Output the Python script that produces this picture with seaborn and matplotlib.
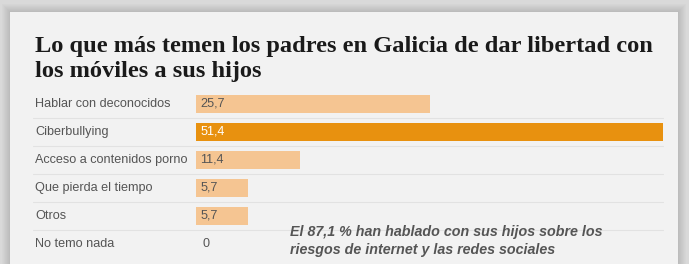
import numpy as np
import pandas as pd
import seaborn as sns
import matplotlib.pyplot as plt
from matplotlib.patches import Rectangle

# Data
categories = ["Hablar con deconocidos", "Ciberbullying", "Acceso a contenidos porno",
              "Que pierda el tiempo", "Otros", "No temo nada"]
values = [25.7, 51.4, 11.4, 5.7, 5.7, 0.0]
value_labels = ["25,7", "51,4", "11,4", "5,7", "5,7", "0"]
highlight = "Ciberbullying"

title = "Lo que más temen los padres en Galicia de dar libertad con\nlos móviles a sus hijos"
note = "El 87,1 % han hablado con sus hijos sobre los\nriesgos de internet y las redes sociales"

W, H = 689, 264
LIGHT = "#f5c592"
DARK = "#e8910f"
CARD = "#f2f2f2"
TEXT = "#555555"

df = pd.DataFrame({"cat": categories, "val": values})
colors = {c: (DARK if c == highlight else LIGHT) for c in categories}

sns.set_style("white")
plt.rcParams["font.family"] = ["Liberation Sans", "DejaVu Sans"]

fig = plt.figure(figsize=(W / 100, H / 100), dpi=100)
fig.patch.set_facecolor("#d6d6d6")

# card with soft shadow
bg = fig.add_axes([0, 0, 1, 1], zorder=-10)
bg.set_xlim(0, W)
bg.set_ylim(H, 0)
bg.axis("off")
bg.add_patch(Rectangle((0, 0), W, H, color="#d9d9d9", lw=0))
for k in range(9, 0, -1):
    shade = 0.85 - 0.014 * (9 - k)
    bg.add_patch(Rectangle((10 - k, 12 - k), 668 + 2 * k, H, color=(shade, shade, shade), lw=0))
bg.add_patch(Rectangle((10, 12), 668, H, color=CARD, lw=0))

# bar axes: x from 196 to 663 px, rows centered 104..244
left, right = 196, 663
top, bottom = 90, 258
ax = fig.add_axes([left / W, (H - bottom) / H, (right - left) / W, (bottom - top) / H])
ax.set_facecolor("none")
sns.barplot(data=df, x="val", y="cat", hue="cat", palette=colors, legend=False,
            orient="h", width=0.64, ax=ax, saturation=1, linewidth=0)
ax.set_xlim(0, 51.4)
ax.set_ylim(len(categories) - 0.5, -0.5)
ax.axis("off")

unit = 51.4 / (right - left)
for i, (cat, lab) in enumerate(zip(categories, value_labels)):
    col = "white" if cat == highlight else TEXT
    xoff = 0.45 if values[i] > 0 else 0.75
    ax.text(xoff, i, lab, va="center", ha="left", fontsize=9.1, color=col)
    ax.text(-(left - 35) * unit, i, cat, va="center", ha="left",
            fontsize=9.1, color=TEXT)
    if i < len(categories) - 1:
        ax.plot([-(left - 33) * unit, 51.4], [i + 0.5, i + 0.5],
                color="#e2e2e2", lw=0.8, clip_on=False, zorder=0)

fig.text(35 / W, 1 - 36 / H, title, ha="left", va="top", fontsize=17.6,
         fontweight="bold", family=["Liberation Serif", "DejaVu Serif"],
         color="#1a1a1a", linespacing=1.25)

fig.text(290 / W, 1 - 241 / H, note, ha="left", va="center", fontsize=10.3,
         fontweight="bold", style="italic", color=TEXT, linespacing=1.35)

fig.savefig("out.png", dpi=100, facecolor=fig.get_facecolor())
